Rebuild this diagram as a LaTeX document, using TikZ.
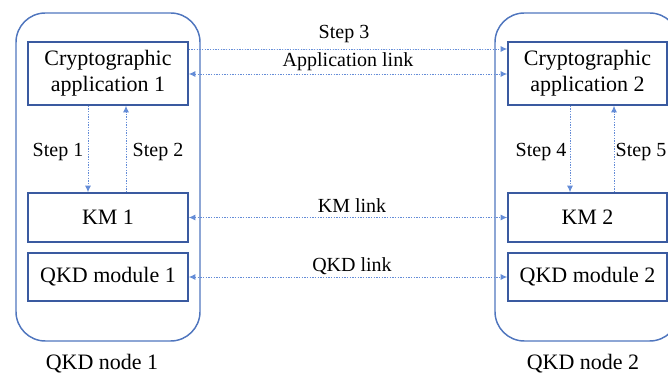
\documentclass[tikz,border=0pt]{standalone}
\usepackage{fontspec}
\setmainfont{Liberation Serif}
\newfontfamily\tnr{LiberationSerif-Regular.ttf}
\usetikzlibrary{arrows.meta}
\definecolor{boxblue}{RGB}{58,90,160}
\definecolor{outerblue}{RGB}{80,118,190}
\definecolor{linkblue}{RGB}{100,140,215}
\begin{document}
\begin{tikzpicture}[x=0.75pt,y=-0.75pt,
  outer/.style={draw=outerblue,line width=1.1pt,rounded corners=22pt,inner sep=0pt},
  box/.style={draw=boxblue,line width=1.1pt,inner sep=0pt,align=center,font=\tnr\fontsize{16.5}{19.5}\selectfont},
  lbl/.style={inner sep=0pt,font=\tnr\fontsize{15}{17}\selectfont},
  link/.style={draw=linkblue,line width=0.7pt,dash pattern=on 1pt off 1pt,-{Latex[length=5pt,width=4.5pt]}},
  blink/.style={link,{Latex[length=5pt,width=4.5pt]}-{Latex[length=5pt,width=4.5pt]}}]
\useasboundingbox (0,0) rectangle (668,374);
\clip (0,0) rectangle (668,374);
% outer nodes
\node[outer,minimum width=138pt,minimum height=246pt] (n1) at (108,177) {};
\node[outer,minimum width=138pt,minimum height=246pt] (n2) at (587,177) {};
% inner boxes
\node[box,minimum width=120pt,minimum height=47.25pt] (app1) at (108,73.5) {Cryptographic\\application 1};
\node[box,minimum width=120pt,minimum height=36.75pt] (km1) at (108,217.5) {KM 1};
\node[box,minimum width=120pt,minimum height=36pt] (qkd1) at (108,277) {QKD module 1};
\node[box,minimum width=119.25pt,minimum height=47.25pt] (app2) at (587.5,73.5) {Cryptographic\\application 2};
\node[box,minimum width=119.25pt,minimum height=36.75pt] (km2) at (587.5,217.5) {KM 2};
\node[box,minimum width=119.25pt,minimum height=36pt] (qkd2) at (587.5,277) {QKD module 2};
% node labels
\node[box,draw=none] (l1) at (102,364) {QKD node 1};
\node[box,draw=none] (l2) at (583,364) {QKD node 2};
% helper coordinates
\coordinate (ys3) at (0,49);
\coordinate (yal) at (0,74);
\coordinate (xs1) at (88,0);
\coordinate (xs2) at (126,0);
\coordinate (xs4) at (570,0);
\coordinate (xs5) at (614,0);
% horizontal links
\draw[link] (app1.east |- ys3) -- (app2.west |- ys3);
\draw[blink] (app1.east |- yal) -- (app2.west |- yal);
\draw[blink] (km1.east) -- (km2.west);
\draw[blink] (qkd1.east) -- (qkd2.west);
% vertical links
\draw[link] (app1.south -| xs1) -- (km1.north -| xs1);
\draw[link] (km1.north -| xs2) -- (app1.south -| xs2);
\draw[link] (app2.south -| xs4) -- (km2.north -| xs4);
\draw[link] (km2.north -| xs5) -- (app2.south -| xs5);
% labels
\node[lbl] (t3) at (344,34) {Step 3};
\node[lbl] (tal) at (348,62) {Application link};
\node[lbl] (tkm) at (352,206) {KM link};
\node[lbl] (tqkd) at (352,266) {QKD link};
\node[lbl] (t1) at (58,152) {Step 1};
\node[lbl] (t2) at (158,152) {Step 2};
\node[lbl] (t4) at (541,152) {Step 4};
\node[lbl] (t5) at (641,152) {Step 5};
\end{tikzpicture}
\end{document}
